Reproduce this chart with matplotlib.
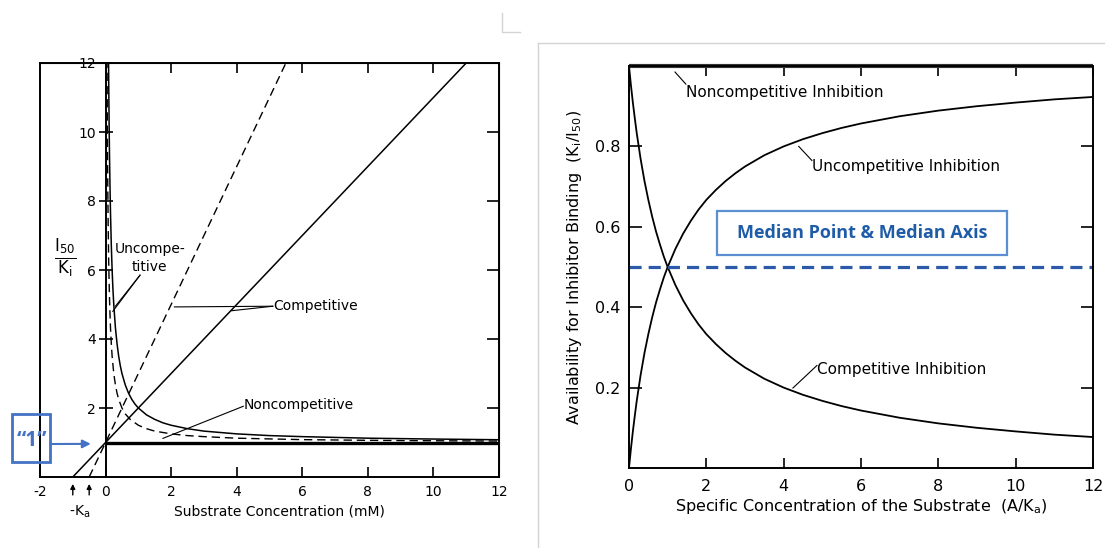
import matplotlib
matplotlib.use("Agg")
import matplotlib.pyplot as plt
from matplotlib.lines import Line2D
from matplotlib.patches import Rectangle

plt.rcParams["axes.unicode_minus"] = False

# ========================
# data
# ========================
# left panel : I50/Ki vs substrate concentration (mM)
comp_solid_x = [-1.0, 11.0]
comp_solid_y = [0.0, 12.0]
comp_dash_x = [-0.5, 5.5]
comp_dash_y = [0.0, 12.0]
noncomp_x = [0.0, 12.0]
noncomp_y = [1.0, 1.0]
uncomp_solid_x = [0.09, 0.1, 0.11, 0.12, 0.135, 0.15, 0.175, 0.2, 0.225, 0.25, 0.3,
                  0.35, 0.4, 0.45, 0.5, 0.6, 0.7, 0.8, 0.9, 1.0, 1.25, 1.5, 1.75,
                  2.0, 2.5, 3.0, 3.5, 4.0, 5.0, 6.0, 8.0, 10.0, 12.0]
uncomp_solid_y = [12.1, 11.0, 10.09, 9.33, 8.41, 7.67, 6.71, 6.0, 5.44, 5.0, 4.33,
                  3.86, 3.5, 3.22, 3.0, 2.67, 2.43, 2.25, 2.11, 2.0, 1.8, 1.67, 1.57,
                  1.5, 1.4, 1.33, 1.29, 1.25, 1.2, 1.17, 1.125, 1.1, 1.08]
uncomp_dash_x = [0.045, 0.05, 0.055, 0.06, 0.07, 0.08, 0.09, 0.1, 0.125, 0.15, 0.175,
                 0.2, 0.25, 0.3, 0.35, 0.4, 0.5, 0.6, 0.75, 1.0, 1.25, 1.5, 2.0,
                 2.5, 3.0, 4.0, 6.0, 8.0, 10.0, 12.0]
uncomp_dash_y = [12.1, 11.0, 10.09, 9.33, 8.14, 7.25, 6.56, 6.0, 5.0, 4.33, 3.86,
                 3.5, 3.0, 2.67, 2.43, 2.25, 2.0, 1.83, 1.67, 1.5, 1.4, 1.33, 1.25,
                 1.2, 1.17, 1.125, 1.083, 1.063, 1.05, 1.042]
left_xticks = [-2, 0, 2, 4, 6, 8, 10, 12]
left_yticks = [2, 4, 6, 8, 10, 12]
ka_marks = [-1.0, -0.5]

# right panel : Ki/I50 vs A/Ka
spec_x = [0, 0.05, 0.1, 0.15, 0.2, 0.3, 0.4, 0.5, 0.6, 0.7, 0.8, 0.9, 1.0, 1.2,
          1.4, 1.6, 1.8, 2.0, 2.25, 2.5, 2.75, 3.0, 3.5, 4.0, 4.5, 5.0, 5.5, 6.0,
          7.0, 8.0, 9.0, 10.0, 11.0, 12.0]
comp_avail = [1.0, 0.952, 0.909, 0.87, 0.833, 0.769, 0.714, 0.667, 0.625, 0.588,
              0.556, 0.526, 0.5, 0.455, 0.417, 0.385, 0.357, 0.333, 0.308, 0.286,
              0.267, 0.25, 0.222, 0.2, 0.182, 0.167, 0.154, 0.143, 0.125, 0.111,
              0.1, 0.091, 0.083, 0.077]
uncomp_avail = [0.0, 0.048, 0.091, 0.13, 0.167, 0.231, 0.286, 0.333, 0.375, 0.412,
                0.444, 0.474, 0.5, 0.545, 0.583, 0.615, 0.643, 0.667, 0.692, 0.714,
                0.733, 0.75, 0.778, 0.8, 0.818, 0.833, 0.846, 0.857, 0.875, 0.889,
                0.9, 0.909, 0.917, 0.923]
noncomp_avail_x = [0.0, 12.0]
noncomp_avail = [1.0, 1.0]
median_value = 0.5
right_xticks = [0, 2, 4, 6, 8, 10, 12]
right_yticks = [0.2, 0.4, 0.6, 0.8]

BLUE = "#4472C4"
BLUE_TXT = "#1F5CA8"
BLUE_DASH = "#2C5AA8"

fig = plt.figure(figsize=(11.05, 5.48), dpi=100)

# ========================
# left panel
# ========================
ax = fig.add_axes([40 / 1105, 71 / 548, 459 / 1105, 414 / 548])
ax.set_xlim(-2, 12)
ax.set_ylim(0, 12)

ax.plot(comp_solid_x, comp_solid_y, color="k", lw=1.1)
ax.plot(comp_dash_x, comp_dash_y, color="k", lw=1.0, ls=(0, (6, 3.5)))
ax.plot(uncomp_solid_x, uncomp_solid_y, color="k", lw=1.1)
ax.plot(uncomp_dash_x, uncomp_dash_y, color="k", lw=1.0, ls=(0, (6, 3.5)))
ax.plot(noncomp_x, noncomp_y, color="k", lw=2.4, solid_capstyle="butt")

# frame: y axis sits at x=0, box closed at x=-2
ax.spines["left"].set_position(("data", 0))
ax.axvline(-2, color="k", lw=1.4, clip_on=False)
for s in ["top", "right", "bottom", "left"]:
    ax.spines[s].set_linewidth(1.4)

ax.set_xticks(left_xticks)
ax.set_yticks(left_yticks)
ax.tick_params(axis="x", direction="in", length=7, width=1.2, labelsize=10, pad=6)
ax.tick_params(axis="y", direction="inout", length=10, width=1.2, labelsize=10, pad=2)

top = ax.secondary_xaxis("top")
top.set_xticks(left_xticks[2:-1])
top.tick_params(direction="in", length=7, width=1.2, labeltop=False)
right = ax.secondary_yaxis("right")
right.set_yticks(left_yticks[:-1])
right.tick_params(direction="in", length=9, width=1.2, labelright=False)

for k in ka_marks:
    ax.annotate("", xy=(k, -0.12), xytext=(k, -0.6), xycoords="data",
                arrowprops=dict(arrowstyle="-|>", color="k", lw=1.0,
                                mutation_scale=7), annotation_clip=False)
ax.text(-0.8, -1.0, r"-K$_{\mathrm{a}}$", ha="center", va="center", fontsize=10)
ax.text(5.3, -1.0, "Substrate Concentration (mM)", ha="center", va="center",
        fontsize=10)
fig.text(65 / 1105, 1 - 258 / 548,
         r"$\frac{\mathrm{I}_{50}}{\mathrm{K}_{\mathrm{i}}}$",
         ha="center", va="center", fontsize=17)

# annotations
ax.text(1.35, 6.35, "Uncompe-\ntitive", ha="center", va="center", fontsize=10,
        linespacing=1.3)
ax.plot([1.05, 0.22], [5.85, 4.8], color="k", lw=0.8)
ax.plot([1.05, 0.3], [5.85, 4.95], color="k", lw=0.8)
ax.text(5.1, 4.95, "Competitive", ha="left", va="center", fontsize=10)
ax.plot([5.1, 2.1], [4.95, 4.93], color="k", lw=0.8)
ax.plot([5.1, 3.85], [4.95, 4.82], color="k", lw=0.8)
ax.text(4.2, 2.1, "Noncompetitive", ha="left", va="center", fontsize=10)
ax.plot([4.2, 1.75], [2.05, 1.12], color="k", lw=0.8)

# the "1" call-out box
fig.add_artist(Rectangle((12 / 1105, 1 - 462 / 548), 38 / 1105, 48 / 548,
                         transform=fig.transFigure, fill=False,
                         edgecolor=BLUE, lw=2))
fig.text(32 / 1105, 1 - 440 / 548, "\u201c1\u201d", ha="center", va="center",
         fontsize=15, fontweight="bold", color=BLUE, family="Open Sans")
ax.annotate("", xy=(-0.45, 0.96), xycoords="data",
            xytext=(51 / 1105, 1 - 444 / 548), textcoords="figure fraction",
            arrowprops=dict(arrowstyle="-|>", color=BLUE, lw=1.5,
                            mutation_scale=12, shrinkA=0, shrinkB=0),
            annotation_clip=False)

# ========================
# right panel
# ========================
bx = fig.add_axes([629 / 1105, 80 / 548, 464 / 1105, 402 / 548])
bx.set_xlim(0, 12)
bx.set_ylim(0, 1.0)

bx.plot(spec_x, comp_avail, color="k", lw=1.3)
bx.plot(spec_x, uncomp_avail, color="k", lw=1.3)
bx.plot(noncomp_avail_x, noncomp_avail, color="#333333", lw=3.0, clip_on=False,
        solid_capstyle="butt")
bx.axhline(median_value, color=BLUE_DASH, lw=2.3, ls=(0, (3.8, 2.2)))

for s in ["top", "right", "bottom", "left"]:
    bx.spines[s].set_linewidth(1.4)
bx.set_xticks(right_xticks)
bx.set_yticks(right_yticks)
bx.set_yticklabels([f"{v:.1f}" for v in right_yticks])
bx.tick_params(direction="in", length=9, width=1.2, labelsize=11.5,
               top=True, right=True)
bx.tick_params(axis="x", pad=8, length=7)
bx.tick_params(axis="y", pad=6)

bx.set_xlabel("Specific Concentration of the Substrate  "
              r"$\left(\mathrm{A/K_a}\right)$", fontsize=11.5, labelpad=2)
bx.set_ylabel("Availability for Inhibitor Binding  "
              r"$\left(\mathrm{K_i/I_{50}}\right)$", fontsize=11.5, labelpad=8)

bx.text(1.47, 0.935, "Noncompetitive Inhibition", ha="left", va="center",
        fontsize=11)
bx.plot([1.19, 1.47], [0.985, 0.955], color="k", lw=0.8)
bx.text(4.73, 0.75, "Uncompetitive Inhibition", ha="left", va="center",
        fontsize=11)
bx.plot([4.39, 4.73], [0.80, 0.765], color="k", lw=0.8)
bx.text(4.86, 0.246, "Competitive Inhibition", ha="left", va="center",
        fontsize=11)
bx.plot([4.24, 4.86], [0.199, 0.255], color="k", lw=0.8)

bx.add_patch(Rectangle((2.27, 0.53), 7.5, 0.11, fill=False, edgecolor="#5B8FD0",
                       lw=1.6))
bx.text(6.02, 0.585, "Median Point & Median Axis", ha="center", va="center",
        fontsize=13, fontweight="bold", color=BLUE_TXT, family="Open Sans")

# faint frame lines of the pasted pictures
grey = "#d4d4d4"
fig.add_artist(Line2D([538 / 1105, 1.0], [1 - 43 / 548, 1 - 43 / 548],
                      color=grey, lw=1))
fig.add_artist(Line2D([538 / 1105, 538 / 1105], [0.0, 1 - 43 / 548],
                      color=grey, lw=1))
fig.add_artist(Line2D([502 / 1105, 502 / 1105, 520 / 1105],
                      [1 - 13 / 548, 1 - 32 / 548, 1 - 32 / 548],
                      color=grey, lw=1))

fig.savefig("out.png", dpi=100)
